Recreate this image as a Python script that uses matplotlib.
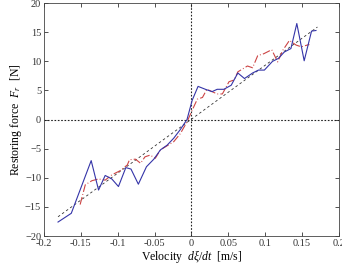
import numpy as np
import matplotlib
matplotlib.use('Agg')
import matplotlib.pyplot as plt

plt.rcParams['font.family'] = ['Liberation Serif', 'DejaVu Serif']
plt.rcParams['mathtext.fontset'] = 'custom'
plt.rcParams['mathtext.it'] = 'Liberation Serif:italic'
plt.rcParams['mathtext.rm'] = 'Liberation Serif'

# measured (blue)
vel_blue = [-0.181, -0.163, -0.136, -0.126, -0.117, -0.108, -0.099, -0.089, -0.082,
            -0.072, -0.061, -0.051, -0.042, -0.033, -0.024, -0.015, -0.006, 0.001,
            0.009, 0.019, 0.028, 0.035, 0.044, 0.054, 0.063, 0.072, 0.083, 0.091,
            0.099, 0.110, 0.118, 0.126, 0.135, 0.143, 0.153, 0.163, 0.169]
force_blue = [-17.6, -16.1, -7.05, -12.1, -9.6, -10.2, -11.5, -8.25, -8.5,
              -11.1, -8.1, -6.8, -5.2, -4.4, -3.2, -1.7, 0.0, 3.3,
              5.7, 5.2, 4.8, 5.2, 5.2, 5.9, 8.0, 7.05, 8.0, 8.5,
              8.5, 10.0, 10.5, 11.6, 12.2, 16.5, 10.1, 15.2, 15.3]

# model (red)
vel_red = [-0.151, -0.144, -0.135, -0.126, -0.117, -0.108, -0.097, -0.087, -0.084,
           -0.076, -0.069, -0.063, -0.056, -0.049, -0.042, -0.033, -0.024, -0.015,
           -0.006, 0.001, 0.008, 0.015, 0.021, 0.028, 0.035, 0.042, 0.051, 0.058,
           0.063, 0.076, 0.083, 0.090, 0.098, 0.109, 0.117, 0.124, 0.133, 0.142,
           0.149, 0.160]
force_red = [-14.6, -11.2, -10.5, -10.2, -10.4, -9.5, -8.8, -7.8, -6.9,
             -6.8, -7.5, -6.4, -6.1, -6.65, -5.2, -4.5, -3.8, -2.4,
             -0.4, 1.6, 3.5, 3.8, 5.2, 4.8, 4.4, 4.4, 6.5, 6.8,
             8.2, 9.2, 8.9, 11.0, 11.3, 12.0, 9.9, 11.9, 13.6, 12.8,
             12.5, 12.9]

# linear fit (black dashed)
vel_fit = [-0.181, 0.171]
force_fit = [-16.7, 15.9]

xticks = [-0.2, -0.15, -0.1, -0.05, 0, 0.05, 0.1, 0.15, 0.2]
xticklabels = ['-0.2', '-0.15', '-0.1', '-0.05', '0', '0.05', '0.1', '0.15', '0.2']
yticks = [-20, -15, -10, -5, 0, 5, 10, 15, 20]

fig = plt.figure(figsize=(3.42, 2.73), dpi=100)
ax = fig.add_axes([0.1287, 0.1355, 0.862, 0.853])

# zero lines
ax.axhline(0, color='#222222', linestyle=(0, (1.5, 1.5)), linewidth=0.8)
ax.axvline(0, color='#222222', linestyle=(0, (1.5, 1.5)), linewidth=0.8)
ax.plot(vel_fit, force_fit, color='#333333', linestyle=(0, (3, 3)), linewidth=0.6)
ax.plot(vel_red, force_red, color='#cc4444', linestyle=(0, (7, 2, 0.8, 2)), linewidth=0.8)
ax.plot(vel_blue, force_blue, color='#3434a8', linewidth=0.8)

ax.set_xlim(-0.2, 0.2)
ax.set_ylim(-20, 20)
ax.set_xticks(xticks)
ax.set_xticklabels(xticklabels)
ax.set_yticks(yticks)
ax.tick_params(direction='in', top=True, right=True, length=3, width=0.6,
               labelsize=7.5, pad=2, colors='#333333')
for s in ax.spines.values():
    s.set_linewidth(0.6)
    s.set_color('#444444')

ax.set_xlabel(r'Velocity  $d\xi/dt$  [m/s]', fontsize=8.5, labelpad=0)
ax.set_ylabel(r'Restoring force  $F_r$  [N]', fontsize=8.5, labelpad=1)

fig.savefig('out.png', dpi=100)
